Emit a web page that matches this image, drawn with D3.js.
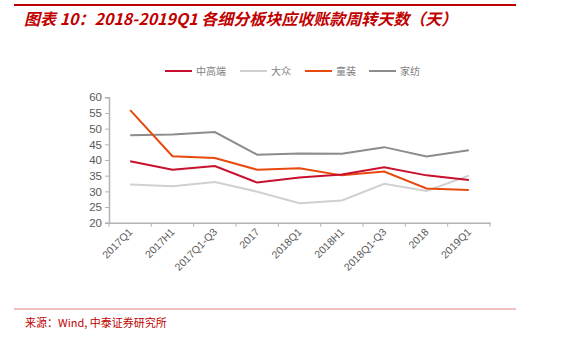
<!DOCTYPE html>
<html><head><meta charset="utf-8">
<script src="https://cdn.jsdelivr.net/npm/d3@7"></script>
<style>body{margin:0;background:#fff}svg{display:block}</style>
</head><body>
<script>
const categories = ["2017Q1","2017H1","2017Q1-Q3","2017","2018Q1","2018H1","2018Q1-Q3","2018","2019Q1"];
const seriesNames = ["中高端","大众","童装","家纺"];
const seriesColors = ["#c8102e","#d0d0d0","#e8490f","#8c8c8c"];
const highEnd = [39.6,36.9,38.1,32.8,34.4,35.4,37.7,35.1,33.6];
const mass    = [32.2,31.6,33.0,29.9,26.2,27.1,32.4,30.1,35.0];
const kids    = [55.9,41.2,40.6,36.9,37.4,35.1,36.3,30.9,30.4];
const homeTex = [47.9,48.1,48.9,41.7,42.1,42.0,44.1,41.1,43.1];
const yTicks = [20,25,30,35,40,45,50,55,60];
const title = "图表 10：2018-2019Q1 各细分板块应收账款周转天数（天）";
const source = "来源：Wind, 中泰证券研究所";

const W=573,H=342;
const svg=d3.select("body").append("svg").attr("width",W).attr("height",H);
const red="#c00000";
svg.append("line").attr("x1",14).attr("x2",516).attr("y1",5).attr("y2",5).attr("stroke",red).attr("stroke-width",2);
svg.append("text").attr("x",24).attr("y",25).text(title)
  .attr("fill",red).attr("font-size",16).attr("font-weight","bold").attr("font-style","italic")
  .attr("font-family","'Noto Sans CJK SC', 'DejaVu Sans', sans-serif");

const x=d3.scaleBand().domain(categories).range([109,490]);
const y=d3.scaleLinear().domain([20,60]).range([222.7,97.3]);

const axisColor="#b3b3b3", labelColor="#595959";
const gy=svg.append("g").attr("transform","translate(109,0)")
  .call(d3.axisLeft(y).tickValues(yTicks).tickSize(4).tickPadding(3));
const gx=svg.append("g").attr("transform","translate(0,222.7)")
  .call(d3.axisBottom(x).tickSize(0).tickFormat(""));
[gy,gx].forEach(g=>{g.select(".domain").attr("stroke",axisColor).attr("stroke-width",1.5);
  g.selectAll(".tick line").attr("stroke",axisColor);
  g.selectAll("text").attr("fill",labelColor).attr("font-size",11.5).attr("font-family","'Liberation Sans', Arial, sans-serif");});
// band-boundary ticks
const bounds=categories.map(c=>x(c)).concat([x.range()[1]]);
gx.selectAll(".bt").data(bounds).enter().append("line")
  .attr("x1",d=>d).attr("x2",d=>d).attr("y1",0).attr("y2",4).attr("stroke",axisColor);
gx.selectAll(".xl").data(categories).enter().append("text")
  .attr("transform",c=>`translate(${x(c)+x.bandwidth()/2+3},${10}) rotate(-45)`)
  .attr("text-anchor","end").attr("fill",labelColor).attr("font-size",10.5)
  .attr("font-family","'Liberation Sans', Arial, sans-serif").text(c=>c);

const allSeries=[highEnd,mass,kids,homeTex];
const line=d3.line().x((d,i)=>x(categories[i])+x.bandwidth()/2).y(d=>y(d));
const drawOrder=[1,3,2,0];
drawOrder.forEach(k=>{
  svg.append("path").datum(allSeries[k]).attr("d",line).attr("fill","none")
    .attr("stroke",seriesColors[k]).attr("stroke-width",2);
});

// legend
const legX=[165,240,305,369];
seriesNames.forEach((n,i)=>{
  svg.append("line").attr("x1",legX[i]).attr("x2",legX[i]+27).attr("y1",71).attr("y2",71)
    .attr("stroke",seriesColors[i]).attr("stroke-width",2);
  svg.append("text").attr("x",legX[i]+31).attr("y",75).text(n).attr("fill","#7f7f7f")
    .attr("font-size",10).attr("font-family","'Noto Sans CJK SC', sans-serif");
});

svg.append("line").attr("x1",14).attr("x2",516).attr("y1",309).attr("y2",309).attr("stroke","#e08080").attr("stroke-width",1);
svg.append("text").attr("x",25).attr("y",327).text(source).attr("fill",red)
  .attr("font-size",11).attr("font-family","'Noto Sans CJK SC', monospace");
</script>
</body></html>
